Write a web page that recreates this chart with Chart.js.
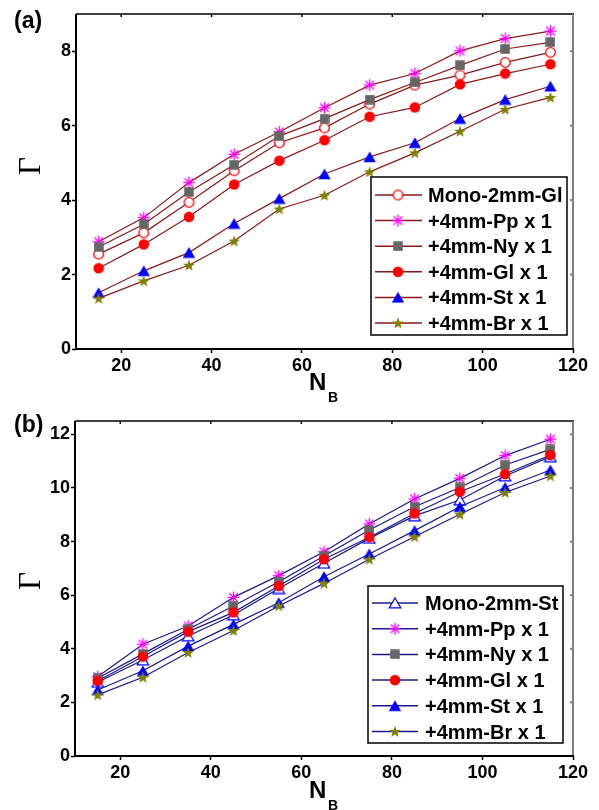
<!DOCTYPE html>
<html><head><meta charset="utf-8">
<script src="https://cdn.jsdelivr.net/npm/chart.js@4.4.0/dist/chart.umd.min.js"></script>
<style>html,body{margin:0;padding:0;background:#fff;overflow:hidden}
canvas{position:absolute;left:0}</style></head><body>
<canvas id="ca" width="599" height="410" style="top:0;width:599px;height:410px"></canvas>
<canvas id="cb" width="599" height="410" style="top:400px;width:599px;height:410px"></canvas>
<script>
const xValues = [15,25,35,45,55,65,75,85,95,105,115];
// panel (a)
const monoGlA = [2.55,3.12,3.94,4.79,5.54,5.94,6.58,7.09,7.36,7.70,7.97];
const ppA     = [2.88,3.53,4.47,5.23,5.83,6.48,7.09,7.40,8.01,8.34,8.54];
const nyA     = [2.74,3.35,4.22,4.95,5.72,6.19,6.70,7.16,7.62,8.06,8.24];
const glA     = [2.17,2.81,3.55,4.42,5.06,5.61,6.24,6.49,7.11,7.40,7.65];
const stA     = [1.51,2.10,2.59,3.37,4.04,4.70,5.16,5.54,6.19,6.70,7.06];
const brA     = [1.36,1.83,2.25,2.90,3.76,4.13,4.76,5.27,5.85,6.44,6.76];
// panel (b)
const monoStB = [2.75,3.58,4.48,5.26,6.25,7.19,8.12,8.96,9.55,10.45,11.17];
const ppB     = [2.96,4.17,4.85,5.92,6.73,7.62,8.66,9.59,10.36,11.21,11.82];
const nyB     = [2.90,3.81,4.73,5.60,6.50,7.46,8.43,9.30,10.02,10.86,11.44];
const glB     = [2.80,3.71,4.64,5.36,6.34,7.34,8.16,9.05,9.86,10.52,11.23];
const stB     = [2.46,3.18,4.10,4.91,5.72,6.69,7.54,8.41,9.30,10.02,10.67];
const brB     = [2.28,2.94,3.86,4.68,5.60,6.44,7.34,8.18,9.02,9.83,10.45];

const xTicks = [20,40,60,80,100,120];
const yTicksA = [0,2,4,6,8];
const yTicksB = [0,2,4,6,8,10,12];
const labelsA = ['Mono-2mm-Gl','+4mm-Pp x 1','+4mm-Ny x 1','+4mm-Gl x 1','+4mm-St x 1','+4mm-Br x 1'];
const labelsB = ['Mono-2mm-St','+4mm-Pp x 1','+4mm-Ny x 1','+4mm-Gl x 1','+4mm-St x 1','+4mm-Br x 1'];

function mk(w,h,draw){const c=document.createElement('canvas');c.width=w;c.height=h;const g=c.getContext('2d');draw(g);return c;}
const mOpenCircle = mk(13,13,g=>{g.beginPath();g.arc(6.5,6.5,4.8,0,Math.PI*2);g.fillStyle='#fff';g.fill();g.strokeStyle='#ff0000';g.lineWidth=1.3;g.stroke();});
const mAster = mk(15,15,g=>{g.strokeStyle='#ff00ff';g.lineWidth=1.3;for(let k=0;k<4;k++){const a=k*Math.PI/4;g.beginPath();g.moveTo(7.5-6*Math.cos(a),7.5-6*Math.sin(a));g.lineTo(7.5+6*Math.cos(a),7.5+6*Math.sin(a));g.stroke();}});
const mSquare = mk(10,10,g=>{g.fillStyle='#666666';g.fillRect(0.25,0.25,9.5,9.5);});
const mDot = mk(12,12,g=>{g.beginPath();g.arc(6,6,5.3,0,Math.PI*2);g.fillStyle='#ff0000';g.fill();});
const mTri = mk(14,12,g=>{g.beginPath();g.moveTo(7,0.6);g.lineTo(13.2,11.2);g.lineTo(0.8,11.2);g.closePath();g.fillStyle='#0000ff';g.fill();});
const mOpenTri = mk(14,12,g=>{g.beginPath();g.moveTo(7,1);g.lineTo(12.8,10.9);g.lineTo(1.2,10.9);g.closePath();g.fillStyle='#fff';g.fill();g.strokeStyle='#0000ff';g.lineWidth=1.2;g.stroke();});
const mStar = mk(14,13,g=>{const cx=7,cy=7,R=6.2,r=2.6;g.beginPath();for(let k=0;k<10;k++){const a=-Math.PI/2+k*Math.PI/5;const rr=k%2?r:R;g.lineTo(cx+rr*Math.cos(a),cy+rr*Math.sin(a));}g.closePath();g.fillStyle='#808000';g.fill();});

const FONT = '"Liberation Sans", Arial, sans-serif';

function ds(label, arr, marker, color, i){
  return {label, data:xValues.map((x,k)=>({x, y:arr[k]})), borderColor:color, borderWidth:1.2,
    pointStyle:marker, pointRadius:5, pointHoverRadius:5, tension:0, fill:false, order:-i};
}

function makeChart(id, H, area, ymax, yTicks, sets, legend, titles){
  const deco = {
    id:'deco',
    afterDraw(chart){
      const {ctx, chartArea:a, scales:{x,y}} = chart;
      ctx.save();
      const L=(x1,y1,x2,y2)=>{ctx.beginPath();ctx.moveTo(x1,y1);ctx.lineTo(x2,y2);ctx.stroke();};
      // top & right frame
      ctx.strokeStyle='#000';ctx.lineWidth=1.5;L(a.left,a.top,a.right+1,a.top);
      xTicks.forEach(v=>{const p=x.getPixelForValue(v);L(p,a.top,p,a.top+3);});
      ctx.strokeStyle='#808080';ctx.lineWidth=2;L(a.right,a.top,a.right,a.bottom);
      yTicks.forEach(v=>{const p=y.getPixelForValue(v);L(a.right,p,a.right-3,p);});
      // left & bottom frame
      ctx.strokeStyle='#000';ctx.lineWidth=2;L(a.left,a.top,a.left,a.bottom+1);L(a.left-1,a.bottom,a.right+1,a.bottom);
      // legend
      const b=legend.box;
      ctx.fillStyle='#fff';ctx.fillRect(b[0],b[1],b[2],b[3]);
      ctx.strokeStyle='#000';ctx.lineWidth=1.5;ctx.strokeRect(b[0],b[1],b[2],b[3]);
      chart.data.datasets.forEach((d,i)=>{
        const yy=legend.y0+i*legend.dy;
        ctx.strokeStyle=d.borderColor;ctx.lineWidth=1.5;L(legend.l0,yy,legend.l1,yy);
        const m=d.pointStyle;ctx.drawImage(m,legend.mx-m.width/2,yy-m.height/2);
        ctx.fillStyle='#000';ctx.font='bold 20px '+FONT;ctx.textAlign='left';ctx.textBaseline='alphabetic';
        ctx.fillText(d.label,legend.tx,yy+7);
      });
      // titles
      ctx.fillStyle='#000';ctx.textBaseline='alphabetic';ctx.textAlign='left';
      ctx.font='bold 23px '+FONT;ctx.fillText(titles.panel,titles.px,titles.py);
      ctx.font='bold 24px '+FONT;ctx.fillText('N',309,titles.ny);
      ctx.font='bold 14px '+FONT;ctx.fillText('B',328,titles.ny+12);
      ctx.save();ctx.translate(32,titles.gy);ctx.rotate(-Math.PI/2);
      ctx.font='31px "Liberation Serif", "Times New Roman", serif';ctx.textAlign='center';ctx.textBaseline='middle';
      ctx.fillText('Γ',0,0);ctx.restore();
      ctx.restore();
    }
  };
  const tickFont={family:FONT,size:18,weight:'bold'};
  return new Chart(document.getElementById(id),{
    type:'line',
    data:{datasets:sets},
    options:{
      responsive:false, maintainAspectRatio:false, animation:false, events:[],
      layout:{padding:{left:0,top:area.top,right:599-area.right,bottom:0}},
      plugins:{legend:{display:false},tooltip:{enabled:false}},
      scales:{
        x:{type:'linear',min:10,max:120,
          afterBuildTicks:s=>{s.ticks=xTicks.map(v=>({value:v}));},
          afterFit:s=>{s.height=H-area.bottom;},
          grid:{drawOnChartArea:false,tickLength:4,tickWidth:1.5,color:'#000'},
          border:{display:false},
          ticks:{font:tickFont,color:'#000',padding:2,maxRotation:0,autoSkip:false}},
        y:{type:'linear',min:0,max:ymax,
          afterBuildTicks:s=>{s.ticks=yTicks.map(v=>({value:v}));},
          afterFit:s=>{s.width=area.left;},
          grid:{drawOnChartArea:false,tickLength:4,tickWidth:1.5,color:'#000'},
          border:{display:false},
          ticks:{font:tickFont,color:'#000',padding:1,autoSkip:false}}
      }
    },
    plugins:[deco]
  });
}

const red='#8b1a1a', navy='#1a1a8c';
makeChart('ca',410,{left:76,top:14,right:573,bottom:349},9,yTicksA,[
  ds(labelsA[0],monoGlA,mOpenCircle,red,0),
  ds(labelsA[1],ppA,mAster,red,1),
  ds(labelsA[2],nyA,mSquare,red,2),
  ds(labelsA[3],glA,mDot,red,3),
  ds(labelsA[4],stA,mTri,red,4),
  ds(labelsA[5],brA,mStar,red,5)
],{box:[371,177,196,158],y0:195,dy:25.6,l0:375,l1:422,mx:398,tx:428},
{panel:'(a)',px:14,py:28,ny:390,gy:166});

makeChart('cb',410,{left:75,top:21,right:573,bottom:356},12.5,yTicksB,[
  ds(labelsB[0],monoStB,mOpenTri,navy,0),
  ds(labelsB[1],ppB,mAster,navy,1),
  ds(labelsB[2],nyB,mSquare,navy,2),
  ds(labelsB[3],glB,mDot,navy,3),
  ds(labelsB[4],stB,mTri,navy,4),
  ds(labelsB[5],brB,mStar,navy,5)
],{box:[368,186,195,157],y0:203,dy:25.7,l0:372,l1:418,mx:395,tx:425},
{panel:'(b)',px:14,py:32,ny:398,gy:181});
</script></body></html>
